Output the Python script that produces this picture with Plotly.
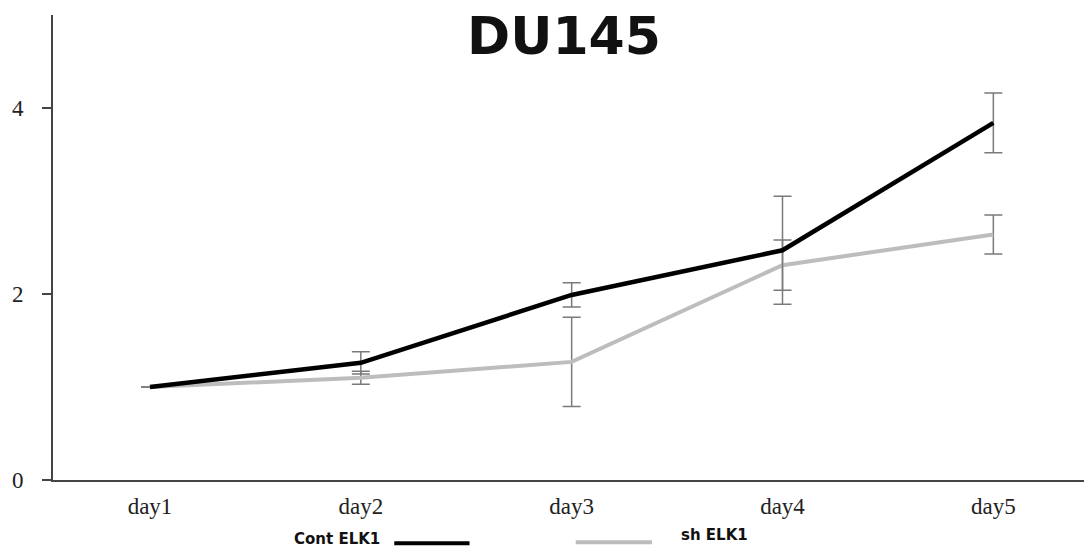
import plotly.graph_objects as go

days = ["day1", "day2", "day3", "day4", "day5"]
cont_elk1 = [1.00, 1.26, 1.99, 2.47, 3.84]
cont_err = [0.00, 0.12, 0.13, 0.58, 0.32]
sh_elk1 = [1.00, 1.10, 1.27, 2.31, 2.64]
sh_err = [0.00, 0.07, 0.48, 0.27, 0.21]
y_ticks = [0, 2, 4]

fig = go.Figure()
fig.add_trace(go.Scatter(
    x=days, y=sh_elk1, mode="lines", name="sh ELK1",
    line=dict(color="#bdbdbd", width=4),
    error_y=dict(type="data", array=sh_err, color="#7a7a7a", thickness=1.5, width=9),
    showlegend=False,
))
fig.add_trace(go.Scatter(
    x=days, y=cont_elk1, mode="lines", name="Cont ELK1",
    line=dict(color="#000000", width=4.5),
    error_y=dict(type="data", array=cont_err, color="#7a7a7a", thickness=1.5, width=9),
    showlegend=False,
))

fig.update_layout(
    width=1084, height=549,
    margin=dict(l=53, r=0, t=15, b=69),
    paper_bgcolor="white", plot_bgcolor="white",
    xaxis=dict(
        type="category", range=[-0.46, 4.43], automargin=False,
        showline=True, linecolor="#444", linewidth=2,
        showgrid=False, zeroline=False, ticks="",
        ticklabelstandoff=4,
        tickfont=dict(family="Liberation Serif, Times New Roman, serif", size=23, color="#222"),
    ),
    yaxis=dict(
        range=[0, 5], tickvals=y_ticks, automargin=False,
        showline=True, linecolor="#444", linewidth=2,
        showgrid=False, zeroline=False,
        ticks="outside", ticklen=9, tickcolor="#444", tickwidth=1.5,
        ticklabelstandoff=14,
        tickfont=dict(family="Liberation Serif, Times New Roman, serif", size=23, color="#222"),
    ),
)

# Title
fig.add_annotation(
    text="<b>DU145</b>", xref="paper", yref="paper", x=0.496, y=0.955,
    xanchor="center", yanchor="middle", showarrow=False,
    font=dict(family="DejaVu Sans, Arial Black, sans-serif", size=52, color="#111"),
)

# Custom legend
fig.add_annotation(
    text="<b>Cont ELK1</b>", xref="paper", yref="paper", x=0.319, y=-0.127,
    xanchor="right", yanchor="middle", showarrow=False,
    font=dict(family="DejaVu Sans, sans-serif", size=15, color="#111"),
)
fig.add_shape(type="line", xref="paper", yref="paper", x0=0.331, x1=0.404,
              y0=-0.136, y1=-0.136, line=dict(color="#000", width=4))
fig.add_shape(type="line", xref="paper", yref="paper", x0=0.507, x1=0.581,
              y0=-0.134, y1=-0.134, line=dict(color="#bdbdbd", width=4))
fig.add_annotation(
    text="<b>sh ELK1</b>", xref="paper", yref="paper", x=0.607, y=-0.119,
    xanchor="left", yanchor="middle", showarrow=False,
    font=dict(family="DejaVu Sans, sans-serif", size=15, color="#111"),
)

fig.write_html(
    "out.html",
    config={"displayModeBar": False},
    post_script="document.body.style.margin='0';document.body.style.overflow='hidden';",
)
